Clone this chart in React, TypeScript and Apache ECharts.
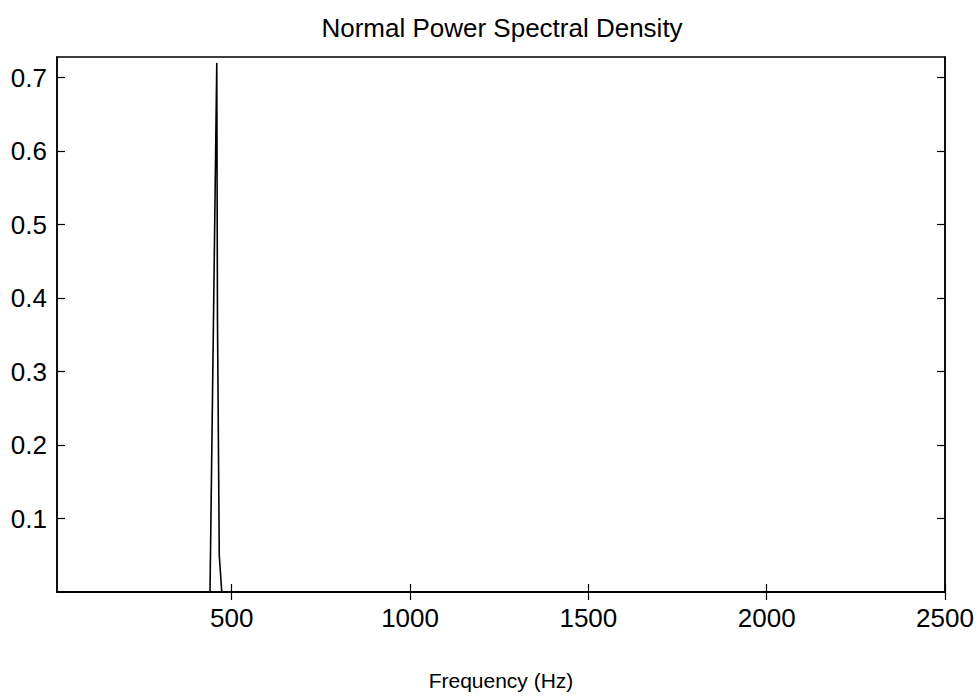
import React, { useEffect, useRef } from "react";
import * as echarts from "echarts";

const titleText = "Normal Power Spectral Density";
const xAxisName = "Frequency (Hz)";
const freqHz = [10, 439, 458, 460, 465, 472, 2500];
const psd = [0, 0, 0.72, 0.37, 0.05, 0, 0];
const xTickValues = [500, 1000, 1500, 2000, 2500];
const yTickValues = [0.1, 0.2, 0.3, 0.4, 0.5, 0.6, 0.7];
const xMin = 10;
const xMax = 2500;
const yMin = 0;
const yMax = 0.728;

export default function App() {
  const ref = useRef<HTMLDivElement>(null);
  useEffect(() => {
    if (!ref.current) return;
    const chart = echarts.init(ref.current, undefined, { renderer: "svg" });
    const font = "'Liberation Sans', Arial, sans-serif";
    const tickStyle = { show: true, inside: true, length: 8, lineStyle: { color: "#000", width: 1.2 } };
    const data = freqHz.map((f, i) => [f, psd[i]]);
    chart.setOption({
      animation: false,
      backgroundColor: "#fff",
      title: {
        text: titleText,
        left: 497,
        top: 10,
        textAlign: "center",
        textStyle: { fontFamily: font, fontSize: 26, fontWeight: "normal", color: "#000" },
      },
      grid: {
        left: 57,
        right: 34,
        top: 57,
        bottom: 101,
        show: true,
        borderColor: "#000",
        borderWidth: 1.5,
        backgroundColor: "#fff",
      },
      xAxis: [
        {
          type: "value",
          position: "bottom",
          min: xMin,
          max: xMax,
          name: xAxisName,
          nameLocation: "middle",
          nameGap: 78,
          nameTextStyle: { fontFamily: font, fontSize: 21, color: "#000" },
          axisLine: { show: true, lineStyle: { color: "#000", width: 1.5 } },
          axisTick: { ...tickStyle, customValues: xTickValues },
          axisLabel: {
            customValues: xTickValues,
            fontFamily: font,
            fontSize: 26,
            color: "#000",
            margin: 13,
            formatter: (v: number) => String(v),
          },
          splitLine: { show: false },
        },
        {
          type: "value",
          position: "top",
          min: xMin,
          max: xMax,
          axisLine: { show: true, lineStyle: { color: "#000", width: 1.5 } },
          axisTick: { ...tickStyle, customValues: xTickValues },
          axisLabel: { show: false },
          splitLine: { show: false },
        },
      ],
      yAxis: [
        {
          type: "value",
          position: "left",
          min: yMin,
          max: yMax,
          axisLine: { show: true, lineStyle: { color: "#000", width: 1.5 } },
          axisTick: { ...tickStyle, customValues: yTickValues },
          axisLabel: {
            customValues: yTickValues,
            fontFamily: font,
            fontSize: 26,
            color: "#000",
            margin: 10,
            formatter: (v: number) => v.toFixed(1),
          },
          splitLine: { show: false },
        },
        {
          type: "value",
          position: "right",
          min: yMin,
          max: yMax,
          axisLine: { show: true, lineStyle: { color: "#000", width: 1.5 } },
          axisTick: { ...tickStyle, customValues: yTickValues },
          axisLabel: { show: false },
          splitLine: { show: false },
        },
      ],
      series: [
        {
          type: "line",
          xAxisIndex: 0,
          yAxisIndex: 0,
          data,
          showSymbol: false,
          lineStyle: { color: "#000", width: 1.6 },
          silent: true,
        },
      ],
    });
    return () => chart.dispose();
  }, []);
  return <div ref={ref} style={{ position: "fixed", left: 0, top: 0, width: 979, height: 696 }} />;
}
